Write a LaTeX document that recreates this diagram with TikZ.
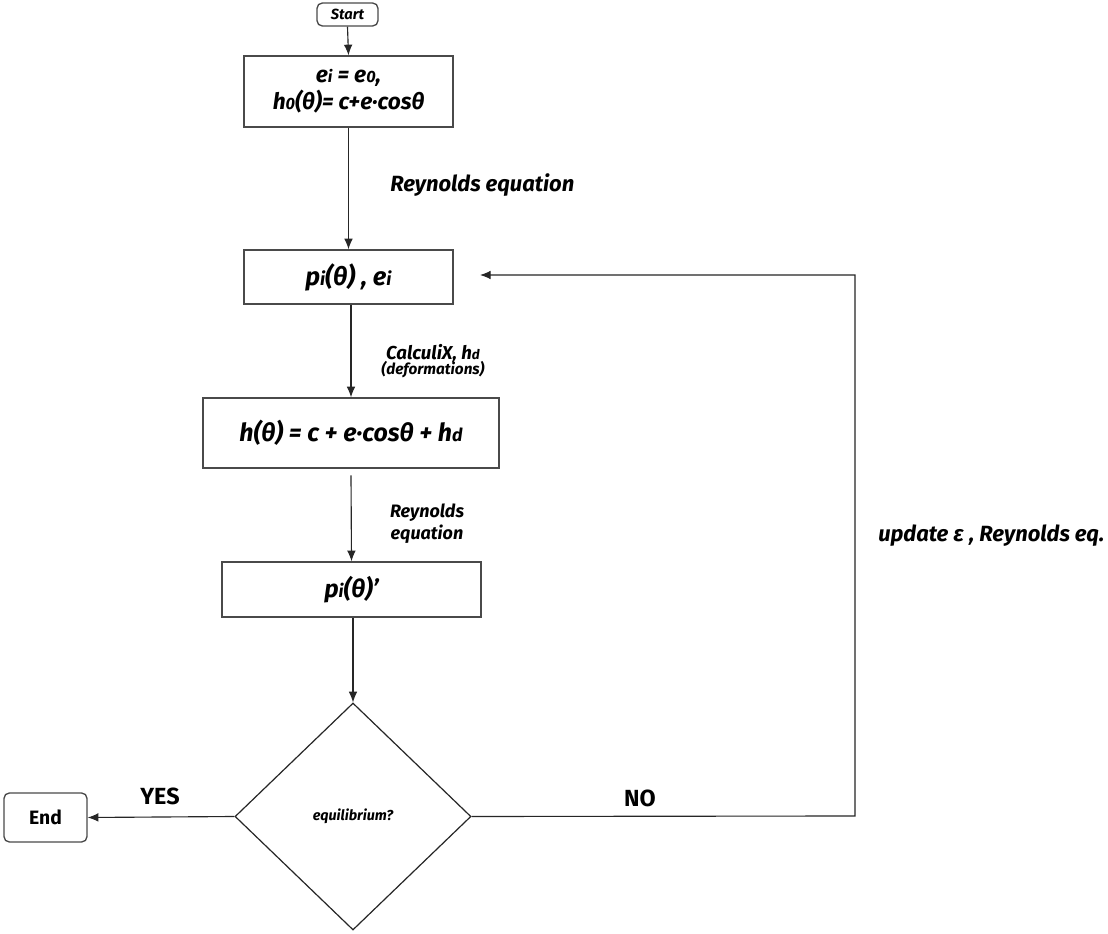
\documentclass[tikz,border=0pt]{standalone}
\usepackage{fontspec}
\setmainfont{Fira Sans}
\usetikzlibrary{arrows.meta,shapes.geometric}
\newcommand\lowsub[1]{\scalebox{0.72}{#1}}
\definecolor{boxline}{HTML}{4A4A4A}
\tikzset{
  procbox/.style={draw=boxline, line width=1pt, rectangle, inner sep=0pt, align=center, font=\bfseries\itshape},
  termbox/.style={draw=boxline, line width=1pt, rectangle, rounded corners=4pt, inner sep=0pt, align=center},
  decbox/.style={draw=black!85, line width=0.9pt, diamond, inner sep=0pt, font=\bfseries\itshape\fontsize{10.8pt}{13pt}\selectfont},
  arr/.style={draw=black!85, line width=0.85pt, -{Latex[length=8pt,width=6.5pt]}},
  edgelbl/.style={font=\bfseries\itshape, align=center, inner sep=0pt},
  yesno/.style={font=\bfseries\fontsize{17.5pt}{20pt}\selectfont, inner sep=0pt}
}
\begin{document}
\begin{tikzpicture}[x=0.75pt,y=-0.75pt]
\useasboundingbox[fill=white] (0,0) rectangle (1108,934);

\node[termbox, minimum width=45.75pt, minimum height=17.25pt, font=\bfseries\itshape\fontsize{11pt}{13pt}\selectfont] (start) at (347.5,14.5) {Start};

\node[procbox, minimum width=156.75pt, minimum height=53.25pt, font=\bfseries\itshape\fontsize{17pt}{20pt}\selectfont] (b1) at (348.5,91.5) {e\lowsub{i} = e\lowsub{0},\\ h\lowsub{0}(θ)= c+e·cosθ};

\node[procbox, minimum width=156.75pt, minimum height=40.5pt, font=\bfseries\itshape\fontsize{19pt}{22pt}\selectfont] (b2) at (348.5,277) {p\lowsub{i}(θ) , e\lowsub{i}};

\node[procbox, minimum width=222pt, minimum height=52.5pt, font=\bfseries\itshape\fontsize{18.7pt}{22pt}\selectfont] (b3) at (351,433) {h(θ) = c + e·cosθ + h\lowsub{d}};

\node[procbox, minimum width=194.25pt, minimum height=41.25pt, font=\bfseries\itshape\fontsize{18.5pt}{22pt}\selectfont] (b4) at (351.5,589.5) {p\lowsub{i}(θ)'};

\node[decbox, minimum width=177pt, minimum height=170.25pt] (dec) at (353,816.5) {equilibrium?};

\node[termbox, minimum width=62.25pt, minimum height=36.75pt, font=\bfseries\fontsize{14.5pt}{16pt}\selectfont] (end) at (45.5,817.5) {End};

\coordinate (nr) at (855,816);
\coordinate (tr) at (855,275);
\coordinate (tip) at (480,275);

\draw[arr] (start.south) -- (b1.north);
\draw[arr] (b1.south) -- (b2.north);
\draw[arr] (b2.south -| b3.north) -- (b3.north);
\draw[arr] ([yshift=-5pt]b3.south) -- (b4.north);
\draw[arr] (b4.south -| dec.north) -- (dec.north);
\draw[arr] (dec.west) -- (end.east);
\draw[arr] (dec.east) -- (nr) -- (tr) -- (tip);

\node[edgelbl, anchor=west, font=\bfseries\itshape\fontsize{16.5pt}{19pt}\selectfont] (l1) at (390,185) {Reynolds equation};
\node[edgelbl] (l2) at (433,361) {{\fontsize{14pt}{15pt}\selectfont CalculiX, h\lowsub{d}}\\[-2pt]{\fontsize{11.5pt}{13pt}\selectfont (deformations)}};
\node[edgelbl, font=\bfseries\itshape\fontsize{13.5pt}{16.5pt}\selectfont] (l3) at (427,524) {Reynolds\\equation};
\node[edgelbl, anchor=west, font=\bfseries\itshape\fontsize{16.5pt}{19pt}\selectfont] (l4) at (878,536) {update ε , Reynolds eq.};
\node[yesno] (yes) at (160,796) {YES};
\node[yesno] (no) at (640,798) {NO};
\end{tikzpicture}
\end{document}
